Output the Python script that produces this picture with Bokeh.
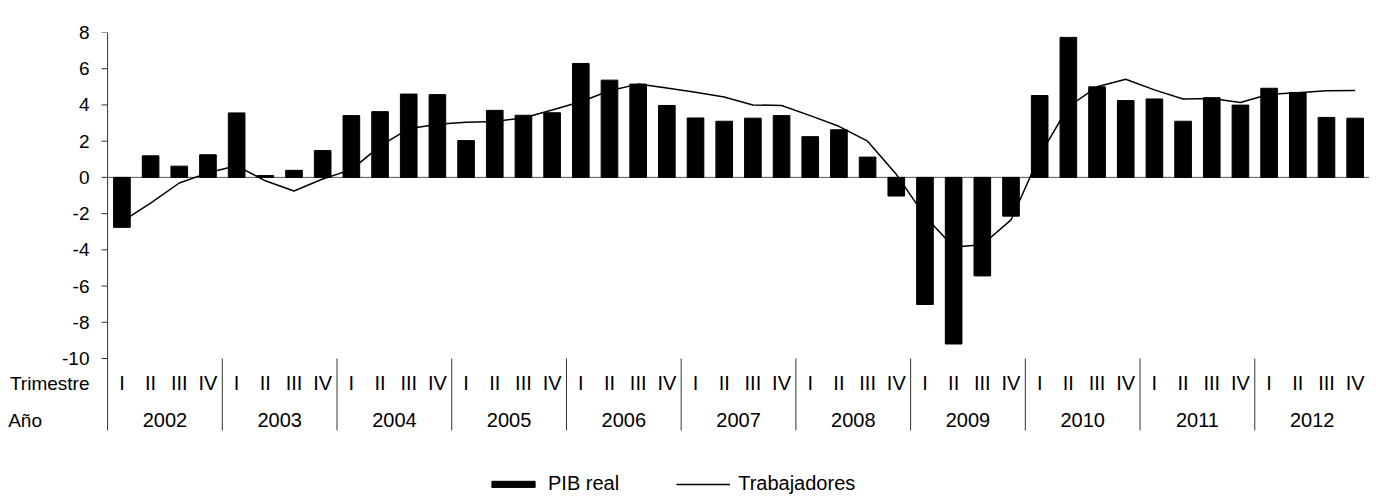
from bokeh.plotting import figure
from bokeh.models import (Range1d, FixedTicker, Legend, LegendItem,
                          ColumnDataSource)
from bokeh.core.properties import value
from bokeh.embed import file_html
from bokeh.resources import INLINE

# ---------------- data ----------------
years = ["2002", "2003", "2004", "2005", "2006", "2007",
         "2008", "2009", "2010", "2011", "2012"]
quarters = ["I", "II", "III", "IV"]

pib_real = [-2.76, 1.19, 0.62, 1.25,
            3.56, 0.10, 0.39, 1.48,
            3.41, 3.63, 4.60, 4.57,
            2.03, 3.70, 3.43, 3.57,
            6.29, 5.37, 5.15, 3.97,
            3.28, 3.10, 3.27, 3.41,
            2.25, 2.63, 1.12, -1.03,
            -7.02, -9.20, -5.44, -2.14,
            4.52, 7.73, 5.00, 4.24,
            4.33, 3.10, 4.40, 3.99,
            4.92, 4.69, 3.31, 3.27]

trabajadores = [-2.44, -1.42, -0.31, 0.25,
                0.64, -0.19, -0.75, -0.09,
                0.43, 1.73, 2.69, 2.93,
                3.04, 3.09, 3.28, 3.72,
                4.18, 4.78, 5.15, 4.94,
                4.70, 4.44, 4.00, 3.97,
                3.41, 2.82, 2.00, 0.17,
                -2.14, -3.85, -3.72, -2.35,
                1.20, 3.90, 5.00, 5.42,
                4.83, 4.33, 4.35, 4.13,
                4.59, 4.67, 4.78, 4.80]

y_ticks = [-10, -8, -6, -4, -2, 0, 2, 4, 6, 8]
y_tick_labels = ["-10", "-8", "-6", "-4", "-2", "0", "2", "4", "6", "8"]
row_titles = ["Trimestre", "Año"]

FONT = "Liberation Sans"
PX_PER_UNIT = 18.11     # vertical pixels per value unit
CAT_PX = 28.68          # horizontal pixels per quarter
W, H = 1369, 495
TOP = 32
LEFT = 100              # frame left edge (axis line drawn 7px inside)

n = len(pib_real)
xs = list(range(n))
q_labels = [quarters[i % 4] for i in xs]

src = ColumnDataSource(dict(x=xs, pib=pib_real, trab=trabajadores, q=q_labels))

y_top = float(max(y_ticks))
y_bottom = y_top - (H - TOP) / PX_PER_UNIT
x_end = n - 0.5
x_start = x_end - (W - LEFT) / CAT_PX
x_axis_pos = -0.5

# rows below the plot area
y_min = float(min(y_ticks))
y_q = y_min - 25 / PX_PER_UNIT
y_a = y_min - 62 / PX_PER_UNIT
y_sep_end = y_min - 72 / PX_PER_UNIT

p = figure(width=W, height=H, output_backend="svg", toolbar_location=None,
           x_range=Range1d(x_start, x_end), y_range=Range1d(y_bottom, y_top),
           x_axis_location=None, y_axis_location="left",
           min_border_left=LEFT, min_border_right=0, min_border_top=TOP,
           min_border_bottom=0)
p.outline_line_color = None
p.xgrid.visible = False
p.ygrid.visible = False
p.background_fill_color = "white"

# y axis: real Bokeh axis for the labels; its line and ticks drawn at x=-0.5
ax = p.yaxis[0]
ax.ticker = FixedTicker(ticks=y_ticks + [y_q, y_a])
overrides = dict(zip(y_ticks, y_tick_labels))
overrides[y_q] = row_titles[0]
overrides[y_a] = row_titles[1] + "\u00a0" * 9
ax.major_label_overrides = overrides
ax.major_label_text_font = FONT
ax.major_label_text_font_size = "19px"
ax.major_label_text_color = "black"
ax.axis_line_color = None
ax.major_tick_line_color = None
ax.minor_tick_line_color = None
ax.major_tick_out = 0
ax.major_tick_in = 0
ax.major_label_standoff = 11

# axis line + tick marks
p.segment(x0=[x_axis_pos], y0=[y_top], x1=[x_axis_pos], y1=[y_sep_end],
          line_color="#333333", line_width=1)
p.segment(x0=[x_axis_pos - 6 / CAT_PX] * len(y_ticks), y0=y_ticks,
          x1=[x_axis_pos] * len(y_ticks), y1=y_ticks,
          line_color="#333333", line_width=1)

# zero (category) axis line
p.segment(x0=[x_axis_pos], y0=[0], x1=[x_end], y1=[0],
          line_color="#555555", line_width=1)

bars = p.vbar(x="x", top="pib", bottom=0, width=0.58, source=src,
              fill_color="black", line_color="black")
line = p.line(x="x", y="trab", source=src, line_color="black", line_width=1.5)

p.text(x="x", y=y_q, text="q", source=src, text_align="center",
       text_baseline="middle", text_font=value(FONT), text_font_size="20px",
       text_color="black")

year_x = [4 * k + 1.5 for k in range(len(years))]
p.text(x=year_x, y=[y_a] * len(years), text=years, text_align="center",
       text_baseline="middle", text_font=value(FONT), text_font_size="20px",
       text_color="black")

sep_x = [4 * k - 0.5 for k in range(1, len(years) + 1)]
p.segment(x0=sep_x, y0=[y_min] * len(sep_x), x1=sep_x,
          y1=[y_sep_end] * len(sep_x), line_color="#333333", line_width=1)

legend = Legend(items=[LegendItem(label="PIB real", renderers=[bars]),
                       LegendItem(label="Trabajadores", renderers=[line])],
                orientation="horizontal", location=(386, 0),
                glyph_width=54, glyph_height=8, label_standoff=8, spacing=57,
                padding=0, margin=0, border_line_color=None,
                background_fill_alpha=0, label_text_font=FONT,
                label_text_color="black",
                label_text_font_size="20px", label_height=20)
p.add_layout(legend)

open("out.html", "w").write(file_html(p, INLINE))
